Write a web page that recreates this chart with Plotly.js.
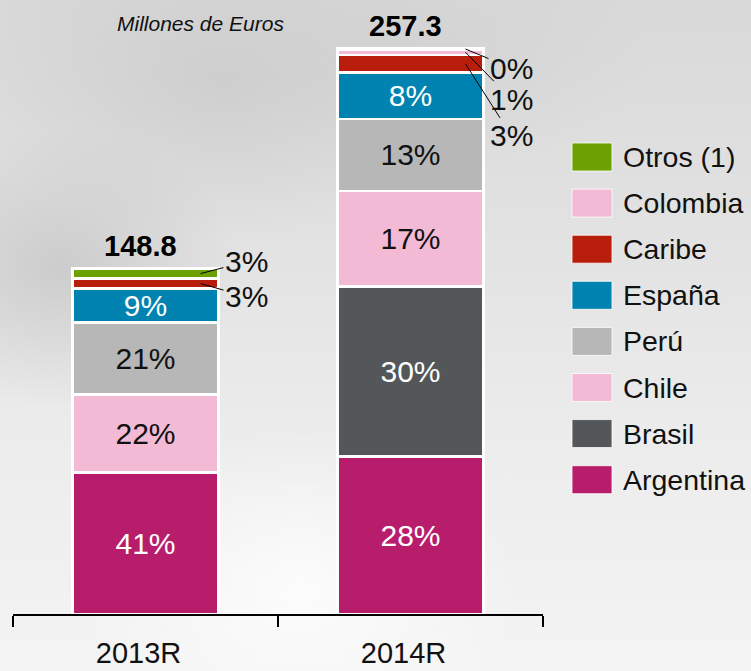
<!DOCTYPE html>
<html>
<head>
<meta charset="utf-8">
<script src="https://cdn.plot.ly/plotly-3.0.1.min.js"></script>
<style>
  html, body { margin:0; padding:0; }
  body {
    width:751px; height:671px; overflow:hidden;
    background:
      radial-gradient(ellipse 180px 140px at 8% 40%, rgba(185,185,185,0.55), rgba(185,185,185,0) 100%),
      radial-gradient(ellipse 260px 160px at 30% 12%, rgba(195,195,195,0.55), rgba(195,195,195,0) 100%),
      radial-gradient(ellipse 200px 120px at 60% 8%, rgba(205,205,205,0.45), rgba(205,205,205,0) 100%),
      radial-gradient(ellipse 220px 160px at 40% 88%, rgba(255,255,255,0.8), rgba(255,255,255,0) 100%),
      linear-gradient(to bottom, #d9d9d9 0%, #e2e2e2 35%, #ececec 65%, #f4f4f4 100%);
  }
  #chart { position:absolute; left:0; top:0; width:751px; height:671px; }
</style>
</head>
<body>
<div id="chart"></div>
<script>
// ---------------- DATA ----------------
const categories = ['2013R', '2014R'];
const totalLabels = ['148.8', '257.3'];

const seriesNames = ['Argentina', 'Brasil', 'Chile', 'Perú', 'España', 'Caribe', 'Colombia', 'Otros (1)'];

// segment values (Millones de Euros)
const argentina = [64.4, 71.7];
const brasil    = [0,    77.5];
const chile     = [35.6, 43.7];
const peru      = [32.9, 32.7];
const espana    = [15.4, 21.1];
const caribe    = [4.6,  8.1];
const colombia  = [0,    2.5];
const otros     = [4.5,  0.4];

// percentage labels as printed
const argentinaPct = ['41%', '28%'];
const brasilPct    = ['',    '30%'];
const chilePct     = ['22%', '17%'];
const peruPct      = ['21%', '13%'];
const espanaPct    = ['9%',  '8%'];
const caribePct    = ['3%',  '3%'];
const colombiaPct  = ['',    '1%'];
const otrosPct     = ['3%',  '0%'];

const seriesColors = ['#B81D6B', '#53575A', '#F3BAD6', '#B7B7B7', '#0083B0', '#B81E0B', '#F3BAD6', '#6BA100'];
const textColors   = ['#ffffff', '#ffffff', '#111111', '#111111', '#ffffff', '#111111', '#111111', '#111111'];

// ---------------- BUILD ----------------
const values = [argentina, brasil, chile, peru, espana, caribe, colombia, otros];
const pcts   = [argentinaPct, brasilPct, chilePct, peruPct, espanaPct, caribePct, colombiaPct, otrosPct];
const insideSeries = [true, true, true, true, true, false, false, false];

const FONT = 'Arial, "Liberation Sans", sans-serif';

const traces = seriesNames.map((name, i) => ({
  type: 'bar',
  name: name,
  x: categories,
  y: values[i],
  marker: { color: seriesColors[i], line: { color: '#ffffff', width: 2.5 } },
  text: insideSeries[i] ? pcts[i] : categories.map(() => ''),
  textposition: 'inside',
  insidetextanchor: 'middle',
  textangle: 0,
  constraintext: 'none',
  insidetextfont: { family: FONT, size: 30, color: textColors[i] },
  hoverinfo: 'skip',
  showlegend: false
}));

// cumulative positions
const cum = categories.map((c, j) => {
  let acc = 0; const out = [];
  values.forEach(v => { out.push([acc, acc + v[j]]); acc += v[j]; });
  return { segs: out, total: acc };
});

const annotations = [];

// totals
categories.forEach((c, j) => {
  annotations.push({
    x: c, y: cum[j].total, xref: 'x', yref: 'y',
    text: '<b>' + totalLabels[j] + '</b>', showarrow: false,
    yanchor: 'bottom', xanchor: 'center', xshift: -5, yshift: 5,
    font: { family: FONT, size: 29, color: '#000' }
  });
});

// leader labels for small segments (series index -> vertical label offset in px)
const leaderOffsets = [
  { 5: 13, 7: -12 },
  { 7: 19, 6: 47, 5: 72 }
];
categories.forEach((c, j) => {
  Object.keys(leaderOffsets[j]).forEach(k => {
    const i = +k; const off = leaderOffsets[j][k];
    if (pcts[i][j] === '') return;
    const seg = cum[j].segs[i];
    annotations.push({
      x: c, y: (seg[0] + seg[1]) / 2, xref: 'x', yref: 'y',
      xshift: 55,
      text: pcts[i][j], showarrow: true, arrowhead: 0, arrowwidth: 1, arrowcolor: '#000',
      ax: 46, ay: off, standoff: 0,
      font: { family: FONT, size: 30, color: '#111' }
    });
  });
});

// title note
annotations.push({
  xref: 'paper', yref: 'paper', x: 0.353, y: 0.985,
  text: '<i>Millones de Euros</i>', showarrow: false,
  xanchor: 'center', yanchor: 'middle',
  font: { family: FONT, size: 21, color: '#111' }
});

// custom legend (top = last series)
const shapes = [];
const PL = 13, PT = 14, PW = 530, PH = 600;
const px2x = p => (p - PL) / PW;
const px2y = p => (PT + PH - p) / PH;
const legendOrder = seriesNames.map((n, i) => i).reverse();
legendOrder.forEach((i, r) => {
  const cy = 157 + r * 46.1;
  shapes.push({
    type: 'rect', xref: 'paper', yref: 'paper',
    x0: px2x(572), x1: px2x(612), y0: px2y(cy - 14), y1: px2y(cy + 14),
    fillcolor: seriesColors[i], line: { color: 'rgba(255,255,255,0.8)', width: 1 }
  });
  annotations.push({
    xref: 'paper', yref: 'paper', x: px2x(621), y: px2y(cy),
    xanchor: 'left', yanchor: 'middle', showarrow: false,
    text: seriesNames[i],
    font: { family: FONT, size: 28.5, color: '#111' }
  });
});

const layout = {
  width: 751, height: 671,
  margin: { l: PL, r: 751 - PL - PW, t: PT, b: 671 - PT - PH, pad: 0 },
  paper_bgcolor: 'rgba(0,0,0,0)',
  plot_bgcolor: 'rgba(0,0,0,0)',
  barmode: 'stack',
  bargap: 0.45,
  showlegend: false,
  xaxis: {
    type: 'category',
    range: [-0.5, 1.5],
    showline: true, linecolor: '#000', linewidth: 2,
    ticks: 'outside', tickson: 'boundaries', ticklen: 11, tickwidth: 2, tickcolor: '#000',
    ticklabelstandoff: 12, ticklabelshift: -7,
    tickfont: { family: FONT, size: 29, color: '#111' },
    showgrid: false, zeroline: false, fixedrange: true
  },
  yaxis: {
    range: [0, PH / 2.194],
    visible: false, showgrid: false, zeroline: false, fixedrange: true
  },
  annotations: annotations,
  shapes: shapes
};

Plotly.newPlot('chart', traces, layout, { displayModeBar: false, staticPlot: true });
</script>
</body>
</html>
